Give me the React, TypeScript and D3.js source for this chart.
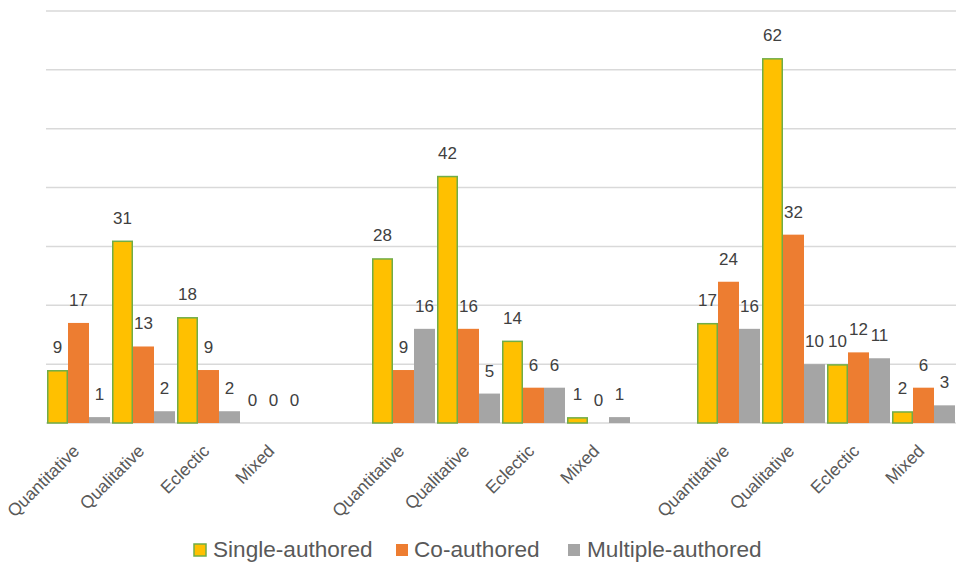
import React from "react";
import * as d3 from "d3";

const categories = ["Quantitative", "Qualitative", "Eclectic", "Mixed"];
const groups = ["G1", "G2", "G3"];
const seriesNames = ["Single-authored", "Co-authored", "Multiple-authored"];
const singleAuthored = [
  [9, 31, 18, 0],
  [28, 42, 14, 1],
  [17, 62, 10, 2],
];
const coAuthored = [
  [17, 13, 9, 0],
  [9, 16, 6, 0],
  [24, 32, 12, 6],
];
const multipleAuthored = [
  [1, 2, 2, 0],
  [16, 5, 6, 1],
  [16, 10, 11, 3],
];
const yTicks = [0, 10, 20, 30, 40, 50, 60, 70];

const colors = ["#FFC000", "#ED7D31", "#A5A5A5"];
const W = 957;
const H = 566;
const FONT = "'Liberation Sans', Arial, sans-serif";

export default function App() {
  // slots: 4 categories per group with an empty slot between groups
  const slots: string[] = [];
  groups.forEach((g, gi) => {
    categories.forEach((c) => slots.push(`${g}|${c}`));
    if (gi < groups.length - 1) slots.push(`gap${gi}`);
  });
  const x = d3.scaleBand<string>().domain(slots).range([46, 956]).padding(0);
  const xs = d3
    .scaleBand<string>()
    .domain(seriesNames)
    .range([0, x.bandwidth()])
    .paddingInner(0)
    .paddingOuter(1 / 21);
  const y = d3.scaleLinear().domain([0, 70]).range([423, 11]);

  const seriesData = [singleAuthored, coAuthored, multipleAuthored];

  const bars: any[] = [];
  groups.forEach((g, gi) => {
    categories.forEach((c, ci) => {
      seriesNames.forEach((s, si) => {
        const v = seriesData[si][gi][ci];
        bars.push({ key: `${g}-${c}-${s}`, slot: `${g}|${c}`, s, si, v });
      });
    });
  });

  const legendItems = [
    { name: seriesNames[0], sx: 194, tx: 213 },
    { name: seriesNames[1], sx: 396, tx: 414 },
    { name: seriesNames[2], sx: 568, tx: 587 },
  ];

  return (
    <div style={{ position: "absolute", left: 0, top: 0 }}>
      <svg width={W} height={H} style={{ display: "block", background: "#fff" }}>
        {yTicks.map((t) => (
          <line
            key={t}
            x1={46}
            x2={956}
            y1={y(t)}
            y2={y(t)}
            stroke="#D9D9D9"
            strokeWidth={1.5}
          />
        ))}
        {bars.map((b) => {
          const bx = (x(b.slot) as number) + (xs(b.s) as number);
          const bw = xs.bandwidth();
          const top = y(b.v);
          const h = y(0) - top;
          return (
            <g key={b.key}>
              {h > 0 && (
                <rect
                  x={b.si === 0 ? bx + 0.75 : bx}
                  y={b.si === 0 ? top + 0.75 : top}
                  width={b.si === 0 ? bw - 1.5 : bw}
                  height={b.si === 0 ? h - 0.75 : h}
                  fill={colors[b.si]}
                  stroke={b.si === 0 ? "#70AD47" : "none"}
                  strokeWidth={1.5}
                />
              )}
              <text
                x={bx + bw / 2}
                y={top - 17}
                textAnchor="middle"
                fontFamily={FONT}
                fontSize={17}
                fill="#404040"
              >
                {b.v}
              </text>
            </g>
          );
        })}
        {groups.map((g) =>
          categories.map((c) => {
            const cx = (x(`${g}|${c}`) as number) + x.bandwidth() / 2 + 2;
            const cy = 452;
            return (
              <text
                key={`${g}-${c}-lbl`}
                x={cx}
                y={cy}
                textAnchor="end"
                transform={`rotate(-45 ${cx} ${cy})`}
                fontFamily={FONT}
                fontSize={17.5}
                fill="#595959"
              >
                {c}
              </text>
            );
          })
        )}
        {legendItems.map((it, i) => (
          <g key={it.name}>
            <rect
              x={it.sx}
              y={544}
              width={12}
              height={12}
              fill={colors[i]}
              stroke={i === 0 ? "#70AD47" : "none"}
              strokeWidth={1.5}
            />
            <text
              x={it.tx}
              y={557}
              fontFamily={FONT}
              fontSize={22.6}
              fill="#595959"
            >
              {it.name}
            </text>
          </g>
        ))}
      </svg>
    </div>
  );
}
